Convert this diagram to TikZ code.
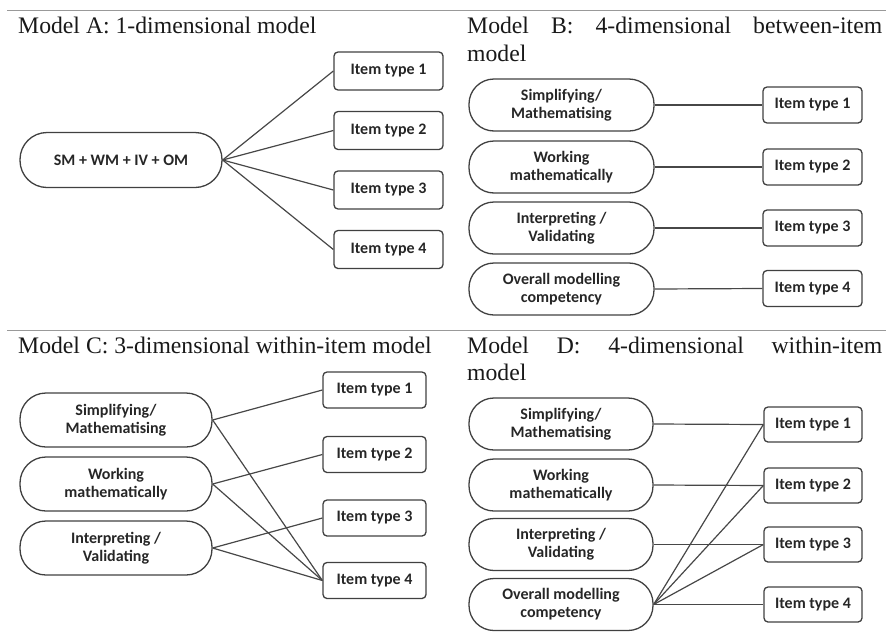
\documentclass[tikz,border=0pt]{standalone}
\usepackage{fontspec}
\setmainfont{Liberation Serif}
\newfontfamily\lblfamily{Carlito}
\newcommand{\headfont}{\fontsize{23.7}{28}\selectfont}
\newcommand{\lblfont}{\lblfamily\bfseries\fontsize{16}{18}\selectfont}
\begin{document}
\begin{tikzpicture}[x=1pt,y=-1pt,
  rule/.style={draw=black!40, line width=0.9pt},
  heading/.style={anchor=base west, inner sep=0pt, font=\headfont, text=black!90},
  factor/.style={draw=black!75, line width=1.3pt, rounded corners=25pt, align=center,
                 font=\lblfont, text=black!85, inner sep=0pt},
  itembox/.style={draw=black!75, line width=1.3pt, rounded corners=4pt,
                  font=\lblfont, text=black!85, inner sep=0pt},
  link/.style={draw=black!72, line width=1.2pt}]
\useasboundingbox (0,0) rectangle (886,643);

% separating rules
\draw[rule] (7,10) -- (886,10);
\draw[rule] (7,330) -- (886,330);

% ---------- Model A ----------
\node[heading] (ha) at (18,33) {Model A: 1-dimensional model};
\node[factor, minimum width=202pt, minimum height=55pt, rounded corners=27pt] (a0) at (121,160) {SM + WM + IV + OM};
\foreach \i/\y in {1/71,2/130.5,3/190,4/249.5}{
  \node[itembox, minimum width=109pt, minimum height=38pt] (a\i) at (388.5,\y) {Item type \i};
  \draw[link] (a0.east) -- (a\i.west);
}

% ---------- Model B ----------
\node[heading] (hb) at (467,33) {\hbox to 415pt{Model\hfill B:\hfill 4-dimensional\hfill between-item}};
\node[heading] (hb2) at (467,61) {model};
\node[factor, minimum width=185pt, minimum height=52pt] (bf1) at (561.5,105) {Simplifying/\\Mathematising};
\node[factor, minimum width=185pt, minimum height=52pt] (bf2) at (561.5,167) {Working\\mathematically};
\node[factor, minimum width=185pt, minimum height=52pt] (bf3) at (561.5,228) {Interpreting /\\Validating};
\node[factor, minimum width=185pt, minimum height=52pt] (bf4) at (561.5,289) {Overall modelling\\competency};
\foreach \i/\y in {1/105,2/167,3/228,4/288.5}{
  \node[itembox, minimum width=99pt, minimum height=36pt] (b\i) at (812.5,\y) {Item type \i};
  \draw[link] (bf\i.east) -- (b\i.west);
}

% ---------- Model C ----------
\node[heading] (hc) at (18,353) {Model C: 3-dimensional within-item model};
\node[factor, minimum width=192pt, minimum height=54pt, rounded corners=26pt] (cf1) at (116,420) {Simplifying/\\Mathematising};
\node[factor, minimum width=192pt, minimum height=54pt, rounded corners=26pt] (cf2) at (116,484) {Working\\mathematically};
\node[factor, minimum width=192pt, minimum height=54pt, rounded corners=26pt] (cf3) at (116,548) {Interpreting /\\Validating};
\foreach \i/\y in {1/390,2/454.5,3/518,4/580.5}{
  \node[itembox, minimum width=103pt, minimum height=36pt] (c\i) at (374.5,\y) {Item type \i};
}
\foreach \i in {1,2,3}{
  \draw[link] (cf\i.east) -- (c\i.west);
  \draw[link] (cf\i.east) -- (c4.west);
}

% ---------- Model D ----------
\node[heading] (hd) at (467,353) {\hbox to 415pt{Model\hfill D:\hfill 4-dimensional\hfill within-item}};
\node[heading] (hd2) at (467,380) {model};
\node[factor, minimum width=184pt, minimum height=52pt] (df1) at (561,424) {Simplifying/\\Mathematising};
\node[factor, minimum width=184pt, minimum height=52pt] (df2) at (561,485) {Working\\mathematically};
\node[factor, minimum width=184pt, minimum height=52pt] (df3) at (561,544.5) {Interpreting /\\Validating};
\node[factor, minimum width=184pt, minimum height=52pt] (df4) at (561,604.5) {Overall modelling\\competency};
\foreach \i/\y in {1/424.5,2/485.5,3/544.5,4/604.5}{
  \node[itembox, minimum width=98pt, minimum height=35pt] (d\i) at (813,\y) {Item type \i};
  \draw[link] (df\i.east) -- (d\i.west);
}
\foreach \i in {1,2,3}{
  \draw[link] (df4.east) -- (d\i.west);
}
\end{tikzpicture}
\end{document}
